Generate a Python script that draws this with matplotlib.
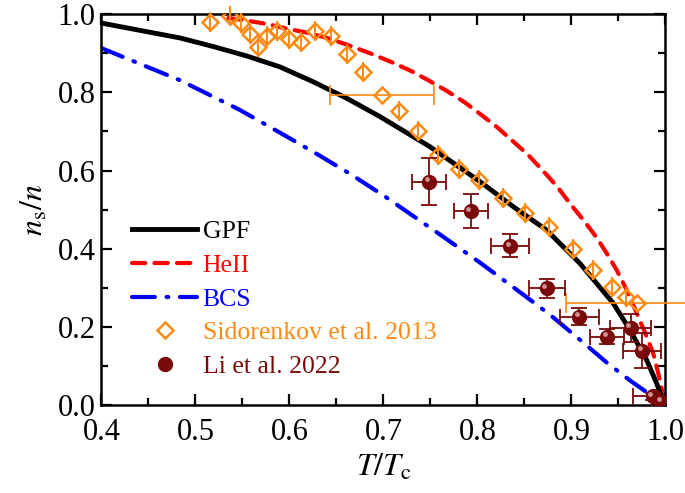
import matplotlib
matplotlib.use("Agg")
import matplotlib.pyplot as plt
from matplotlib.transforms import offset_copy

plt.rcParams['font.family'] = ['Liberation Serif', 'DejaVu Serif']
plt.rcParams['mathtext.fontset'] = 'stix'

# GPF curve (black solid)
gpf_t = [0.4, 0.4835, 0.519, 0.5545, 0.5899, 0.6253, 0.6608, 0.6963, 0.7495, 0.8027,
         0.8381, 0.8736, 0.9090, 0.9445, 0.9622, 0.9800, 0.9906, 0.9970, 1.0]
gpf_n = [0.977, 0.939, 0.917, 0.893, 0.865, 0.827, 0.785, 0.738, 0.661, 0.572,
         0.508, 0.448, 0.363, 0.261, 0.193, 0.116, 0.057, 0.014, 0.0]

# HeII curve (red dashed)
he_t = [0.535, 0.5505, 0.5774, 0.5970, 0.6218, 0.6413, 0.6644, 0.6856, 0.7069,
        0.7282, 0.7477, 0.7672, 0.7867, 0.8027, 0.8204, 0.8364, 0.8540, 0.8707,
        0.8849, 0.8984, 0.9126, 0.9268, 0.9374, 0.9481, 0.9587, 0.9694, 0.9800,
        0.9870, 0.9941, 0.9970, 1.0]
he_n = [0.990, 0.985, 0.974, 0.963, 0.951, 0.938, 0.919, 0.900, 0.879,
        0.856, 0.831, 0.804, 0.774, 0.745, 0.712, 0.678, 0.640, 0.597,
        0.559, 0.516, 0.474, 0.429, 0.389, 0.346, 0.295, 0.236, 0.176,
        0.133, 0.065, 0.031, 0.0]

# BCS curve (blue dash-dot)
bcs_t = [0.4, 0.4835, 0.5473, 0.5899, 0.6289, 0.6644, 0.7016, 0.7317, 0.7672,
         0.8027, 0.8399, 0.8771, 0.9090, 0.9374, 0.9622, 0.9800, 0.9906, 1.0]
bcs_n = [0.913, 0.831, 0.755, 0.697, 0.643, 0.592, 0.534, 0.484, 0.425,
         0.365, 0.299, 0.232, 0.168, 0.110, 0.064, 0.034, 0.015, 0.0]

# Sidorenkov et al. 2013
sid_t = [0.5154, 0.5367, 0.5484, 0.5580, 0.5668, 0.5764, 0.5870, 0.5998, 0.6119,
         0.6271, 0.6438, 0.6609, 0.6779, 0.6984, 0.7168, 0.7372, 0.7585, 0.7806,
         0.8021, 0.8271, 0.8511, 0.8763, 0.9013, 0.9232, 0.9428, 0.9577, 0.9700]
sid_n = [0.980, 0.995, 0.978, 0.949, 0.915, 0.944, 0.956, 0.935, 0.929,
         0.957, 0.944, 0.898, 0.853, 0.792, 0.753, 0.700, 0.640, 0.603,
         0.576, 0.531, 0.492, 0.457, 0.400, 0.346, 0.303, 0.276, 0.261]
sid_terr = [0, 0, 0, 0, 0, 0, 0, 0, 0,
            0, 0, 0, 0, 0.055, 0, 0, 0, 0,
            0, 0, 0, 0, 0, 0, 0, 0, 0.076]

# Li et al. 2022
li_t = [0.7487, 0.7928, 0.8349, 0.8736, 0.9085, 0.9380, 0.9630, 0.9750, 0.9862, 0.9952]
li_n = [0.572, 0.497, 0.408, 0.299, 0.227, 0.176, 0.199, 0.140, 0.023, 0.010]
li_terr = [0.018, 0.018, 0.020, 0.019, 0.021, 0.018, 0.022, 0.020, 0.021, 0.010]
li_nerr = [0.060, 0.043, 0.029, 0.024, 0.022, 0.020, 0.036, 0.045, 0.010, 0.005]

orange = '#ff8a12'
maroon = '#7a0a0a'

fig = plt.figure(figsize=(6.85, 4.93), dpi=100)
ax = fig.add_axes([0.148, 0.1775, 0.8235, 0.794])

l1, = ax.plot(gpf_t, gpf_n, color='black', lw=3.5, label='GPF', zorder=3)
l2, = ax.plot(he_t, he_n, color='#ff0000', lw=3.0, ls=(0, (3.2, 2.2)),
              dash_capstyle='round', label='HeII', zorder=2)
l3, = ax.plot(bcs_t, bcs_n, color='#0000ff', lw=3.0, ls=(0, (5.5, 2.8, 0.4, 2.8)),
              dash_capstyle='round', label='BCS', zorder=2)

eb = ax.errorbar(sid_t, sid_n, xerr=sid_terr, fmt='none', ecolor=orange,
                 elinewidth=1.2, capsize=7, capthick=1.2, zorder=4)
for c in eb.get_children():
    c.set_clip_on(False)
l4, = ax.plot(sid_t, sid_n, ls='none', marker='D', ms=8.5, mfc='none', mec=orange,
              mew=1.8, label='Sidorenkov et al. 2013', zorder=5)

ax.errorbar(li_t, li_n, xerr=li_terr, yerr=li_nerr, fmt='none', ecolor=maroon,
            elinewidth=1.3, capsize=6, capthick=1.3, zorder=6)
l5, = ax.plot(li_t, li_n, ls='none', marker='o', ms=10, mfc=maroon, mec=maroon,
              label='Li et al. 2022', zorder=7)
hl_tr = offset_copy(ax.transData, fig=fig, x=-1.6, y=1.6, units='points')
ax.plot(li_t, li_n, ls='none', marker='o', ms=3.5, mfc='#d9a0a0', mec='none',
        alpha=0.9, transform=hl_tr, zorder=8)

ax.set_xlim(0.4, 1.0)
ax.set_ylim(0.0, 1.0)
ax.set_xticks([0.4, 0.5, 0.6, 0.7, 0.8, 0.9, 1.0])
ax.set_yticks([0.0, 0.2, 0.4, 0.6, 0.8, 1.0])
ax.set_xticks([0.45, 0.55, 0.65, 0.75, 0.85, 0.95], minor=True)
ax.set_yticks([0.1, 0.3, 0.5, 0.7, 0.9], minor=True)
ax.tick_params(which='both', direction='in', top=True, right=True, width=1.6,
               labelsize=22)
ax.tick_params(which='major', length=8)
ax.tick_params(which='minor', length=5)
ax.tick_params(axis='x', pad=9)
ax.tick_params(axis='y', pad=4)
for s in ax.spines.values():
    s.set_linewidth(1.8)

ax.set_xlabel(r'$T/T_{\rm c}$', fontsize=23, labelpad=4)
ax.set_ylabel(r'$n_{\rm s}/n$', fontsize=23, labelpad=6)

leg = ax.legend(handles=[l1, l2, l3, l4, l5], loc='lower left',
                bbox_to_anchor=(0.054, 0.07), frameon=False, fontsize=18.5,
                handlelength=2.55, handletextpad=0.2, labelspacing=0.42,
                borderpad=0, borderaxespad=0)
for txt, col in zip(leg.get_texts(), ['black', '#ff0000', '#0000ff', orange, maroon]):
    txt.set_color(col)

fig.savefig('out.png', dpi=100)
